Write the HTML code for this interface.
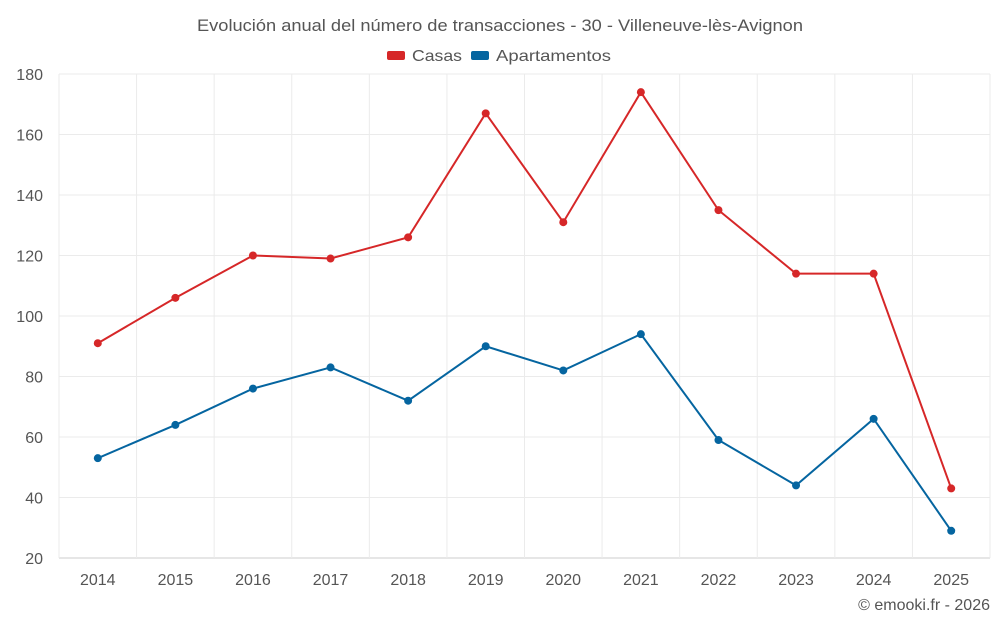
<!DOCTYPE html>
<html><head><meta charset="utf-8"><style>
body{margin:0;background:#fff;font-family:"Liberation Sans",sans-serif}
svg text{font-family:"Liberation Sans",sans-serif}
</style></head><body>
<svg id="c" width="1000" height="625">
<text x="197" y="31" textLength="606" lengthAdjust="spacingAndGlyphs" font-size="17" fill="#555">Evolución anual del número de transacciones - 30 - Villeneuve-lès-Avignon</text>
<g>
<g><rect x="387" y="51" width="18" height="9" rx="2" fill="#d62728"/><text x="412" y="61" textLength="50" lengthAdjust="spacingAndGlyphs" font-size="16" fill="#555">Casas</text></g>
<g><rect x="471" y="51" width="18" height="9" rx="2" fill="#0565a0"/><text x="496" y="61" textLength="115" lengthAdjust="spacingAndGlyphs" font-size="16" fill="#555">Apartamentos</text></g>
</g>
<g id="grid"></g>
<g id="axes"></g>
<g id="series"></g>
<text x="990" y="610" text-anchor="end" font-size="16" fill="#555">© emooki.fr - 2026</text>
</svg>
<script>
const categories=["2014","2015","2016","2017","2018","2019","2020","2021","2022","2023","2024","2025"];
const casas=[91,106,120,119,126,167,131,174,135,114,114,43];
const apartamentos=[53,64,76,83,72,90,82,94,59,44,66,29];
const yTicks=[20,40,60,80,100,120,140,160,180];
const L=59,R=990,T=74,B=558,yMin=20,yMax=180;
const bw=(R-L)/categories.length;
const x=i=>L+bw*(i+0.5);
const y=v=>B-(v-yMin)/(yMax-yMin)*(B-T);
const NS="http://www.w3.org/2000/svg";
function mk(tag,attrs,parent){const e=document.createElementNS(NS,tag);for(const k in attrs)e.setAttribute(k,attrs[k]);parent.appendChild(e);return e;}
const grid=document.getElementById('grid'),axes=document.getElementById('axes'),ser=document.getElementById('series');
yTicks.forEach(t=>{
 const l=mk('line',{x1:L,x2:R,y1:y(t),y2:y(t),stroke:t===yMin?'#ccc':'#ebebeb','stroke-width':1},grid);
 
 
 const tx=mk('text',{x:L-16,y:y(t)+6,'text-anchor':'end','font-size':16,fill:'#555'},axes);
 tx.textContent=t;
 
 
});
for(let i=0;i<=categories.length;i++){
 const l=mk('line',{x1:L+bw*i,x2:L+bw*i,y1:T,y2:B,stroke:'#ebebeb','stroke-width':1},grid);
 
 
}
categories.forEach((c,i)=>{
 const tx=mk('text',{x:x(i),y:B+27,'text-anchor':'middle','font-size':16,fill:'#555'},axes);
 tx.textContent=c;
 
 
});
function draw(data,color,name){
 const p=mk('polyline',{points:data.map((v,i)=>x(i)+','+y(v)).join(' '),fill:'none',stroke:color,'stroke-width':2},ser);
 
 
 data.forEach((v,i)=>{
  const c=mk('circle',{cx:x(i),cy:y(v),r:4,fill:color},ser);
  
  
 });
}
draw(casas,'#d62728','casas');
draw(apartamentos,'#0565a0','apartamentos');
</script>
</body></html>
